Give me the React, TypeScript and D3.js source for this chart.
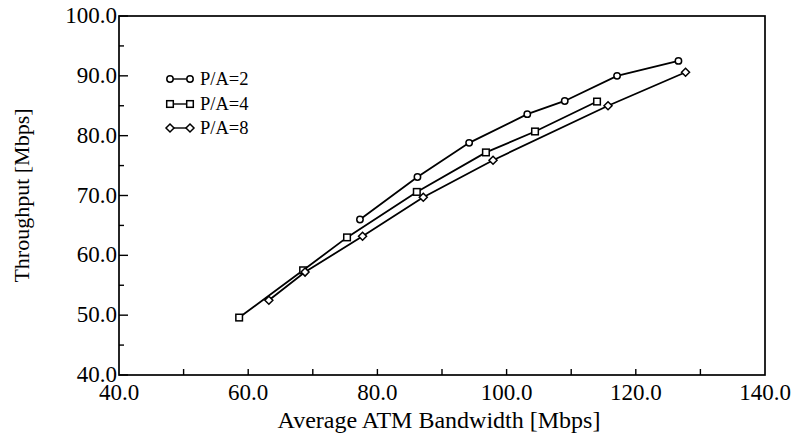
import React from 'react';
import * as d3 from 'd3';

const xTicks = [40, 60, 80, 100, 120, 140];
const xMinorTicks = [50, 60, 70, 80, 90, 100, 110, 120, 130];
const yTicks = [40, 50, 60, 70, 80, 90, 100];
const yMinorTicks = [45, 55, 65, 75, 85, 95];

const seriesNames = ['P/A=2', 'P/A=4', 'P/A=8'];
const markerTypes = ['circle', 'square', 'diamond'];

const pa2X = [77.3, 86.2, 94.2, 103.2, 109.0, 117.1, 126.6];
const pa2Y = [66.0, 73.1, 78.8, 83.6, 85.8, 90.0, 92.5];
const pa4X = [58.6, 68.5, 75.3, 86.1, 96.8, 104.4, 114.0];
const pa4Y = [49.6, 57.5, 63.0, 70.6, 77.2, 80.7, 85.7];
const pa8X = [63.2, 68.8, 77.7, 87.1, 97.9, 115.7, 127.7];
const pa8Y = [52.5, 57.2, 63.2, 69.7, 75.9, 85.0, 90.6];

const seriesX = [pa2X, pa4X, pa8X];
const seriesY = [pa2Y, pa4Y, pa8Y];

const W = 794;
const H = 443;
const L = 119, R = 765, T = 16, B = 375;
const FONT = 'Liberation Serif';

function Marker({ type, cx, cy }: { type: string; cx: number; cy: number }) {
  const sw = 1.5;
  if (type === 'circle') {
    return <circle cx={cx} cy={cy} r={3.2} fill="#fff" stroke="#000" strokeWidth={sw} />;
  }
  if (type === 'square') {
    return <rect x={cx - 3.3} y={cy - 3.3} width={6.6} height={6.6} fill="#fff" stroke="#000" strokeWidth={sw} />;
  }
  const s = 4;
  return (
    <path d={`M${cx},${cy - s}L${cx + s},${cy}L${cx},${cy + s}L${cx - s},${cy}Z`} fill="#fff" stroke="#000" strokeWidth={sw} />
  );
}

export default function App() {
  const x = d3.scaleLinear().domain([40, 140]).range([L, R]);
  const y = d3.scaleLinear().domain([40, 100]).range([B, T]);
  const line = d3.line<[number, number]>().x(d => x(d[0])).y(d => y(d[1]));

  const legendRows = [79, 104, 128];

  return (
    <svg width={W} height={H} style={{ position: 'absolute', left: 0, top: 0, background: '#fff' }} fontFamily={FONT}>
      <rect x={0} y={0} width={W} height={H} fill="#fff" />
      <rect x={L} y={T} width={R - L} height={B - T} fill="none" stroke="#000" strokeWidth={1.7} />
      {xMinorTicks.map(t => (
        <line key={'xt' + t} x1={x(t)} x2={x(t)} y1={B} y2={B - 6} stroke="#000" strokeWidth={1.4} />
      ))}
      {xTicks.map(t => (
        <text key={'xl' + t} x={x(t)} y={400} textAnchor="middle" fontSize={23} fontFamily={FONT} fill="#000">{t.toFixed(1)}</text>
      ))}
      {yTicks.map(t => (
        <line key={'yt' + t} x1={L} x2={L + 9} y1={y(t)} y2={y(t)} stroke="#000" strokeWidth={1.4} />
      ))}
      {yMinorTicks.map(t => (
        <line key={'ym' + t} x1={L} x2={L + 5} y1={y(t)} y2={y(t)} stroke="#000" strokeWidth={1.4} />
      ))}
      {yTicks.map(t => (
        <text key={'yl' + t} x={117} y={y(t) + 7} textAnchor="end" fontSize={23} fontFamily={FONT} fill="#000">{t.toFixed(1)}</text>
      ))}
      <text x={(L + R) / 2 - 3} y={428} textAnchor="middle" fontSize={24} fontFamily={FONT} fill="#000">Average ATM Bandwidth [Mbps]</text>
      <text transform={`translate(29,${(T + B) / 2}) rotate(-90)`} textAnchor="middle" fontSize={22} fontFamily={FONT} fill="#000">Throughput [Mbps]</text>
      {seriesNames.map((name, i) => {
        const pts: [number, number][] = seriesX[i].map((v, j) => [v, seriesY[i][j]]);
        return (
          <g key={name}>
            <path d={line(pts) || ''} fill="none" stroke="#000" strokeWidth={1.8} />
            {pts.map((p, j) => (
              <Marker key={j} type={markerTypes[i]} cx={x(p[0])} cy={y(p[1])} />
            ))}
          </g>
        );
      })}
      {seriesNames.map((name, i) => (
        <g key={'lg' + name}>
          <line x1={170} x2={190} y1={legendRows[i]} y2={legendRows[i]} stroke="#000" strokeWidth={1.4} />
          <Marker type={markerTypes[i]} cx={170} cy={legendRows[i]} />
          <Marker type={markerTypes[i]} cx={190} cy={legendRows[i]} />
          <text x={200} y={legendRows[i] + 6} fontSize={18.5} fontFamily={FONT} fill="#000">{name}</text>
        </g>
      ))}
    </svg>
  );
}
